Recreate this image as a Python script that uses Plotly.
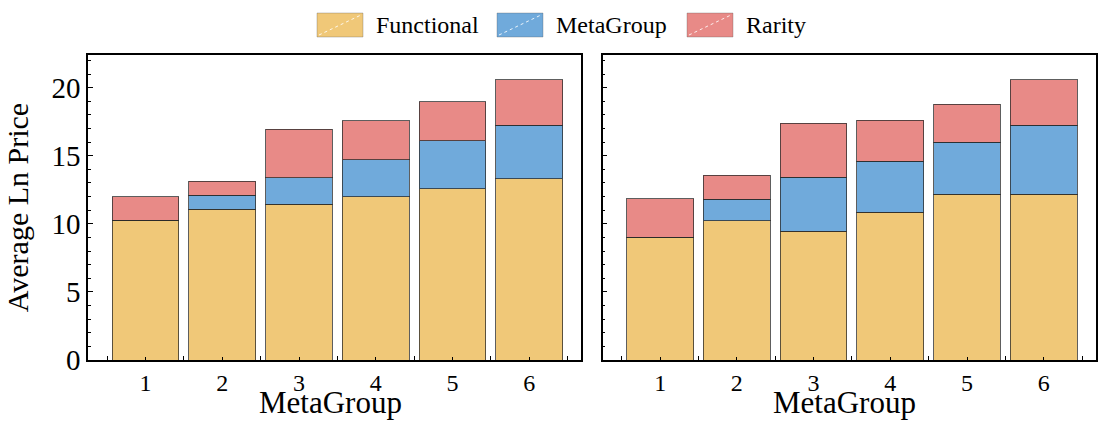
import plotly.graph_objects as go
from plotly.subplots import make_subplots

groups = [1, 2, 3, 4, 5, 6]
series_names = ["Functional", "MetaGroup", "Rarity"]

# Left panel: segment heights
left_functional = [10.27, 11.08, 11.45, 11.99, 12.57, 13.31]
left_metagroup = [0.0, 1.03, 1.93, 2.72, 3.53, 3.94]
left_rarity = [1.72, 1.03, 3.56, 2.86, 2.85, 3.34]

# Right panel
right_functional = [9.02, 10.22, 9.46, 10.86, 12.18, 12.18]
right_metagroup = [0.0, 1.59, 3.97, 3.75, 3.82, 5.07]
right_rarity = [2.82, 1.77, 3.95, 3.01, 2.80, 3.34]

y_ticks = [0, 5, 10, 15, 20]

colors = {"Functional": "#F0C878", "MetaGroup": "#70AADB", "Rarity": "#E88A87"}
FONT = "Liberation Serif"

fig = make_subplots(rows=1, cols=2, horizontal_spacing=0.021)

panels = [
    (1, [left_functional, left_metagroup, left_rarity]),
    (2, [right_functional, right_metagroup, right_rarity]),
]
for col, data in panels:
    for name, vals in zip(series_names, data):
        fig.add_trace(
            go.Bar(
                x=groups, y=vals, name=name, width=0.87,
                marker=dict(color=colors[name],
                            line=dict(color="rgba(40,40,40,0.75)", width=1)),
                showlegend=False,
            ),
            row=1, col=col,
        )

fig.update_layout(
    barmode="stack",
    width=1101, height=421,
    margin=dict(l=88, r=5, t=55, b=61, autoexpand=False),
    plot_bgcolor="white", paper_bgcolor="white",
    font=dict(family=FONT, color="black", size=24),
    showlegend=False,
)

for col in (1, 2):
    fig.update_xaxes(
        range=[0.25, 6.68], tickvals=groups, ticktext=[str(g) for g in groups],
        ticks="inside", ticklen=3, tickwidth=1.2, tickcolor="black",
        minor=dict(ticks="inside", tick0=0.5, dtick=1, ticklen=4, tickwidth=1.2, tickcolor="black"),
        showline=True, linecolor="black", linewidth=1.5, mirror=True,
        showgrid=False, zeroline=False, automargin=False,
        tickfont=dict(size=24, family=FONT),
        row=1, col=col,
    )
    fig.update_yaxes(
        range=[0, 22.4], tickvals=y_ticks,
        ticks="inside", ticklen=5, tickwidth=1.2, tickcolor="black",
        minor=dict(ticks="inside", dtick=1, ticklen=3, tickwidth=1.2, tickcolor="black"),
        showline=True, linecolor="black", linewidth=1.5, mirror=True,
        showgrid=False, zeroline=False, automargin=False,
        tickfont=dict(size=29, family=FONT),
        showticklabels=(col == 1),
        row=1, col=col,
    )
fig.update_yaxes(title=dict(text="Average Ln Price", font=dict(size=30, family=FONT), standoff=14), row=1, col=1)

W = 1101 - 88 - 5
H = 421 - 55 - 61
def px(xp):
    return (xp - 88) / W
def py(yp):
    return (421 - 61 - yp) / H

# x-axis titles
for xc in (330, 844):
    fig.add_annotation(xref="paper", yref="paper", x=px(xc), y=py(402),
                       text="MetaGroup", showarrow=False, xanchor="center", yanchor="middle",
                       font=dict(size=31, family=FONT, color="black"))

# Custom legend (wide patches like the reference)
legend_items = [("Functional", 317), ("MetaGroup", 497), ("Rarity", 687)]
for name, x0 in legend_items:
    fig.add_shape(type="rect", xref="paper", yref="paper",
                  x0=px(x0), x1=px(x0 + 46), y0=py(37), y1=py(13),
                  fillcolor=colors[name], line=dict(color="rgba(80,80,80,0.3)", width=1))
    fig.add_shape(type="line", xref="paper", yref="paper",
                  x0=px(x0 + 2), x1=px(x0 + 44), y0=py(35), y1=py(15),
                  line=dict(color="rgba(255,255,255,0.85)", width=1, dash="dot"))
    fig.add_annotation(xref="paper", yref="paper", x=px(x0 + 57), y=py(25),
                       text=name, showarrow=False, xanchor="left", yanchor="middle",
                       font=dict(size=24, family=FONT, color="black"))

fig.write_html("out.html")
